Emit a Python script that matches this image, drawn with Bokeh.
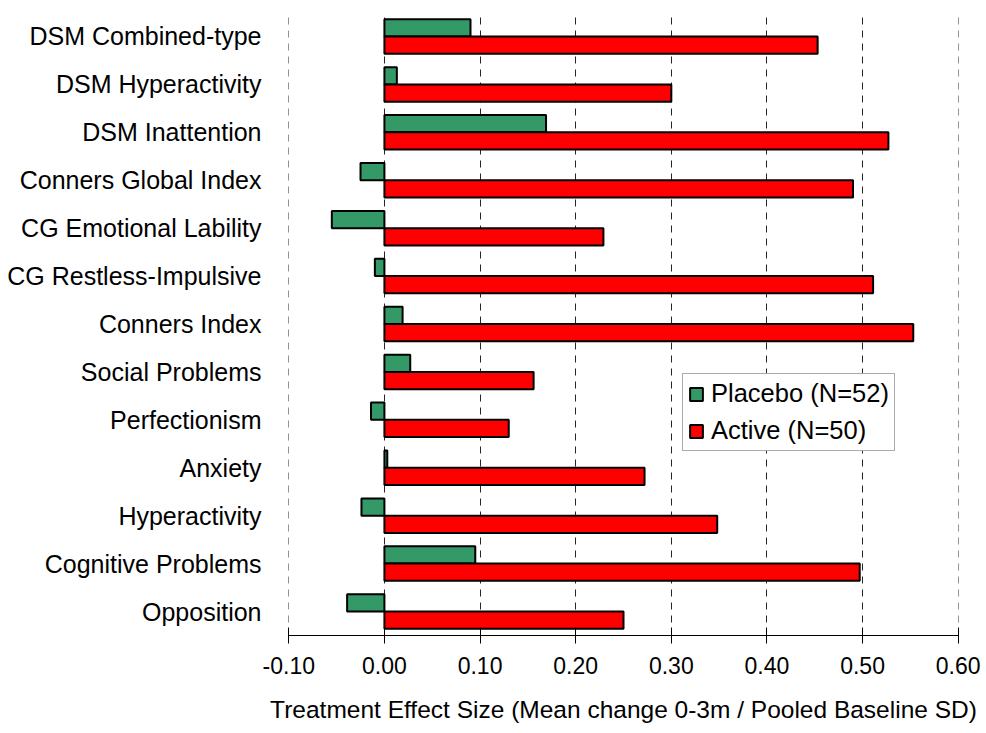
from bokeh.plotting import figure
from bokeh.models import ColumnDataSource, FactorRange, FixedTicker, NumeralTickFormatter, Legend, LegendItem
from bokeh.transform import dodge
from bokeh.embed import file_html
from bokeh.resources import INLINE

categories = ["DSM Combined-type", "DSM Hyperactivity", "DSM Inattention",
              "Conners Global Index", "CG Emotional Lability", "CG Restless-Impulsive",
              "Conners Index", "Social Problems", "Perfectionism", "Anxiety",
              "Hyperactivity", "Cognitive Problems", "Opposition"]
placebo = [0.090, 0.013, 0.169, -0.025, -0.055, -0.010, 0.019, 0.027, -0.014, 0.003, -0.024, 0.095, -0.039]
active = [0.453, 0.300, 0.527, 0.490, 0.229, 0.511, 0.553, 0.156, 0.130, 0.272, 0.348, 0.497, 0.250]
x_ticks = [-0.1, 0.0, 0.1, 0.2, 0.3, 0.4, 0.5, 0.6]
series_labels = ["Placebo (N=52)", "Active (N=50)"]
x_title = "Treatment Effect Size (Mean change 0-3m / Pooled Baseline SD)"

FONT = "Liberation Sans"

src = ColumnDataSource(dict(cat=categories, placebo=placebo, active=active))

p = figure(width=986, height=733, output_backend="svg", toolbar_location=None,
           y_range=FactorRange(factors=list(reversed(categories))),
           x_range=(-0.1003, 0.6003),
           min_border_left=288, min_border_right=28, min_border_top=12, min_border_bottom=98)
p.background_fill_color = "white"
p.border_fill_color = "white"
p.outline_line_color = None

r_p = p.hbar(y=dodge("cat", 0.18, range=p.y_range), height=0.36, left=0, right="placebo",
             source=src, fill_color="#339966", line_color="black", line_width=2)
r_a = p.hbar(y=dodge("cat", -0.18, range=p.y_range), height=0.36, left=0, right="active",
             source=src, fill_color="#FF0000", line_color="black", line_width=2)

ticker = FixedTicker(ticks=x_ticks)
xa = p.xaxis[0]
xa.ticker = ticker
xa.formatter = NumeralTickFormatter(format="0.00")
xa.minor_tick_line_color = None
xa.major_tick_in = 8
xa.major_tick_out = 8
xa.axis_line_color = "black"
xa.major_tick_line_color = "black"
xa.major_label_text_font = FONT
xa.major_label_text_font_size = "23px"
xa.major_label_text_color = "black"
xa.major_label_standoff = 13
xa.axis_label = x_title
xa.axis_label_text_font = FONT
xa.axis_label_text_font_size = "24.5px"
xa.axis_label_text_font_style = "normal"
xa.axis_label_text_color = "black"
xa.axis_label_standoff = 19

ya = p.yaxis[0]
ya.axis_line_color = None
ya.major_tick_line_color = None
ya.minor_tick_line_color = None
ya.major_label_text_font = FONT
ya.major_label_text_font_size = "25px"
ya.major_label_text_color = "black"
ya.major_label_standoff = 21

p.xgrid.ticker = ticker
p.xgrid.grid_line_color = "black"
p.xgrid.grid_line_alpha = 0.85
p.xgrid.grid_line_dash = "7 6"
p.xgrid.grid_line_width = 1
p.ygrid.grid_line_color = None

legend = Legend(items=[LegendItem(label=series_labels[0], renderers=[r_p]),
                       LegendItem(label=series_labels[1], renderers=[r_a])],
                location=(394, 184))
legend.label_text_font = FONT
legend.label_text_font_size = "25.5px"
legend.label_text_color = "black"
legend.glyph_width = 16
legend.glyph_height = 16
legend.label_standoff = 7
legend.label_height = 28
legend.spacing = 8
legend.padding = 5
legend.margin = 0
legend.border_line_color = "#555555"
legend.border_line_width = 1
legend.background_fill_color = "white"
legend.background_fill_alpha = 1
p.add_layout(legend, "center")

open("out.html", "w").write(file_html(p, INLINE))
